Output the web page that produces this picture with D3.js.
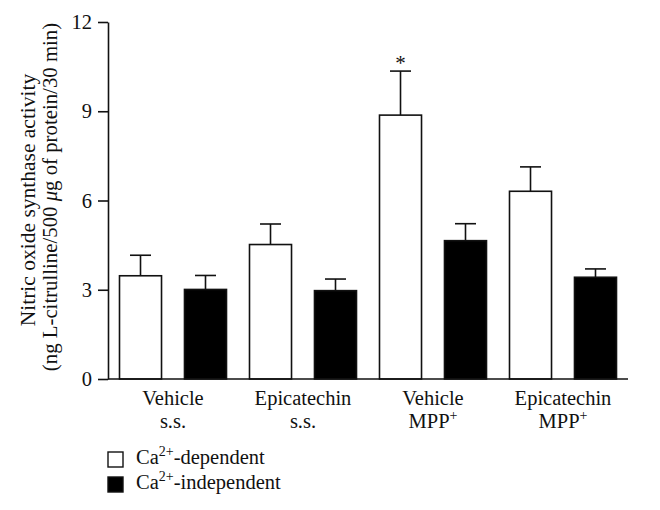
<!DOCTYPE html>
<html><head><meta charset="utf-8">
<script src="https://cdn.jsdelivr.net/npm/d3@7/dist/d3.min.js"></script>
<style>body{margin:0;background:#fff}svg text{font-family:"Liberation Serif","Times New Roman",serif;fill:#111}</style>
</head><body><svg id="c" width="660" height="510"></svg>
<script>
const groups = [["Vehicle","s.s."],["Epicatechin","s.s."],["Vehicle","MPP+"],["Epicatechin","MPP+"]];
const series = ["Ca2+-dependent","Ca2+-independent"];
const dependent = [3.47, 4.52, 8.87, 6.31];
const dependentErr = [0.69, 0.69, 1.48, 0.82];
const independent = [3.01, 2.97, 4.65, 3.42];
const independentErr = [0.47, 0.39, 0.57, 0.28];
const yTicks = [0, 3, 6, 9, 12];
const significant = [false, false, true, false];

(function () {
const svg = d3.select("#c");
const pl = 108, pr = 628, pt = 22, pb = 379;
const y = d3.scaleLinear().domain([0, 12]).range([pb, pt]);
const x0 = d3.scaleBand().domain(d3.range(groups.length)).range([pl, pr]).padding(0);
const x1 = d3.scaleBand().domain(series).range([11, x0.bandwidth() - 11]).paddingInner(0.338).paddingOuter(0);
const fills = ["#fff", "#000"];
const FS = 20.5;

const data = [];
groups.forEach((g, i) => {
  data.push({g: i, s: series[0], v: dependent[i], e: dependentErr[i]});
  data.push({g: i, s: series[1], v: independent[i], e: independentErr[i]});
});

const eb = svg.append("g").attr("stroke", "#111").attr("stroke-width", 1.6);
data.forEach(d => {
  const cx = x0(d.g) + x1(d.s) + x1.bandwidth() / 2;
  eb.append("line").attr("x1", cx).attr("x2", cx).attr("y1", y(d.v)).attr("y2", y(d.v + d.e));
  eb.append("line").attr("x1", cx - 10.5).attr("x2", cx + 10.5).attr("y1", y(d.v + d.e)).attr("y2", y(d.v + d.e));
});

svg.append("g").selectAll("rect").data(data).join("rect")
  .attr("x", d => x0(d.g) + x1(d.s) + 0.5)
  .attr("y", d => y(d.v))
  .attr("width", x1.bandwidth() - 1)
  .attr("height", d => y(0) - y(d.v))
  .attr("fill", d => fills[series.indexOf(d.s)])
  .attr("stroke", "#111").attr("stroke-width", 1.6);

data.forEach(d => {
  if (d.s === series[0] && significant[d.g]) {
    svg.append("text").attr("x", x0(d.g) + x1(d.s) + x1.bandwidth() / 2)
      .attr("y", y(d.v + d.e) - 1).attr("text-anchor", "middle")
      .attr("font-size", 21).text("*");
  }
});

const ya = svg.append("g").attr("transform", `translate(${pl},0)`)
  .call(d3.axisLeft(y).tickValues(yTicks).tickSize(10).tickSizeOuter(0).tickPadding(6));
ya.select(".domain").attr("stroke", "#111").attr("stroke-width", 1.6);
ya.selectAll(".tick line").attr("stroke", "#111").attr("stroke-width", 1.6);
ya.selectAll(".tick text").attr("font-size", FS).attr("font-family", "Liberation Serif").attr("fill", "#111");

svg.append("line").attr("x1", pl).attr("x2", pr).attr("y1", y(0)).attr("y2", y(0))
  .attr("stroke", "#111").attr("stroke-width", 1.6);

groups.forEach((g, i) => {
  const cx = x0(i) + x0.bandwidth() / 2;
  svg.append("text").attr("x", cx).attr("y", 405).attr("text-anchor", "middle").attr("font-size", FS).text(g[0]);
  const t = svg.append("text").attr("x", cx).attr("y", 428).attr("text-anchor", "middle").attr("font-size", FS);
  if (g[1].endsWith("+")) {
    t.append("tspan").text(g[1].slice(0, -1));
    t.append("tspan").attr("dy", -8).attr("font-size", 14).text("+");
  } else t.text(g[1]);
});

svg.append("g").attr("transform", "translate(35,200) rotate(-90)")
  .append("text").attr("text-anchor", "middle").attr("font-size", 21.5).text("Nitric oxide synthase activity");
const yl2 = svg.append("g").attr("transform", "translate(57,197) rotate(-90)").append("text")
  .attr("text-anchor", "middle").attr("font-size", 20.8);
yl2.append("tspan").text("(ng L-citrulline/500 ");
yl2.append("tspan").attr("font-style", "italic").text("μ");
yl2.append("tspan").text("g of protein/30 min)");

series.forEach((s, i) => {
  const ly = 452 + i * 25;
  svg.append("rect").attr("x", 108).attr("y", ly).attr("width", 15).attr("height", 15)
    .attr("fill", fills[i]).attr("stroke", "#111").attr("stroke-width", 1.4);
  const t = svg.append("text").attr("x", 136).attr("y", ly + 12).attr("font-size", FS);
  t.append("tspan").text("Ca");
  t.append("tspan").attr("dy", -8).attr("font-size", 14).text("2+");
  t.append("tspan").attr("dy", 8).text(s.slice(4));
});
})();
</script></body></html>
